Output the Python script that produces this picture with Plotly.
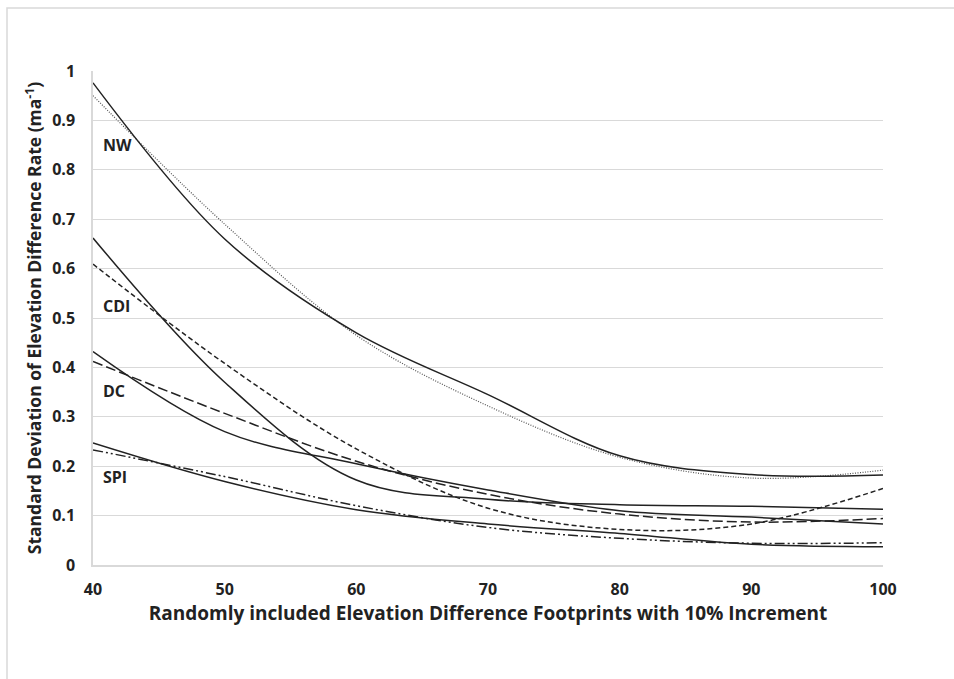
import plotly.graph_objects as go

x_pct = [40, 50, 60, 70, 80, 90, 100]

nw_solid = [0.976, 0.66, 0.47, 0.345, 0.221, 0.183, 0.182]
nw_dotted = [0.95, 0.69, 0.465, 0.322, 0.218, 0.176, 0.192]
cdi_solid = [0.662, 0.37, 0.172, 0.133, 0.122, 0.119, 0.113]
cdi_dashed = [0.609, 0.408, 0.235, 0.115, 0.072, 0.083, 0.155]
dc_solid = [0.432, 0.27, 0.205, 0.152, 0.11, 0.097, 0.083]
dc_dashed = [0.412, 0.307, 0.21, 0.143, 0.103, 0.087, 0.094]
spi_solid = [0.247, 0.169, 0.112, 0.083, 0.064, 0.042, 0.037]
spi_dashdot = [0.233, 0.179, 0.12, 0.076, 0.054, 0.044, 0.045]

region_labels = ["NW", "CDI", "DC", "SPI"]
label_x = [40.6, 40.6, 40.6, 40.6]
label_y = [0.85, 0.524, 0.352, 0.178]

x_ticks = [40, 50, 60, 70, 80, 90, 100]
y_ticks = [0, 0.1, 0.2, 0.3, 0.4, 0.5, 0.6, 0.7, 0.8, 0.9, 1]
y_tick_text = ["0", "0.1", "0.2", "0.3", "0.4", "0.5", "0.6", "0.7", "0.8", "0.9", "1"]

FONT = "Open Sans"
INK = "#222222"

series = [
    (nw_dotted, dict(color="#555555", width=1.2, dash="1px,1.5px")),
    (nw_solid, dict(color=INK, width=1.5)),
    (cdi_dashed, dict(color=INK, width=1.5, dash="5px,3px")),
    (cdi_solid, dict(color=INK, width=1.5)),
    (dc_dashed, dict(color=INK, width=1.5, dash="10px,4px")),
    (dc_solid, dict(color=INK, width=1.5)),
    (spi_dashdot, dict(color=INK, width=1.5, dash="10px,3px,2px,3px,2px,3px")),
    (spi_solid, dict(color=INK, width=1.5)),
]

fig = go.Figure()
for ys, ln in series:
    fig.add_trace(go.Scatter(x=x_pct, y=ys, mode="lines",
                             line=dict(shape="spline", smoothing=1.0, **ln),
                             showlegend=False, hoverinfo="skip"))

for t, lx, ly in zip(region_labels, label_x, label_y):
    fig.add_annotation(x=lx, y=ly, text="<b>%s</b>" % t, showarrow=False,
                       xanchor="left", yanchor="middle",
                       font=dict(family=FONT, size=16, color=INK))

# outer light border
L, R, T, B = 93, 883, 71, 565
pw, ph = R - L, B - T
fig.add_shape(type="rect", xref="paper", yref="paper",
              x0=(7 - L) / pw, x1=(990 - L) / pw,
              y0=(B - 720) / ph, y1=(B - 8) / ph,
              line=dict(color="#d9d9d9", width=1.5), fillcolor="rgba(0,0,0,0)", layer="below")

fig.update_layout(
    width=954, height=679,
    margin=dict(l=L, r=954 - R, t=T, b=679 - B),
    paper_bgcolor="white", plot_bgcolor="white",
    font=dict(family=FONT, color=INK),
    xaxis=dict(range=[40, 100], tickvals=x_ticks, ticktext=["<b>%d</b>" % v for v in x_ticks],
               showgrid=False, zeroline=False, showline=True, linecolor="#d9d9d9", linewidth=1.5,
               tickfont=dict(family=FONT, size=16, color=INK), ticks="",
               ticklabelstandoff=9,
               title=dict(text="<b>Randomly included Elevation Difference Footprints with 10% Increment</b>",
                          font=dict(family=FONT, size=19, color=INK), standoff=5)),
    yaxis=dict(range=[0, 1], tickvals=y_ticks, ticktext=["<b>%s</b>" % t for t in y_tick_text],
               showgrid=True, gridcolor="#d9d9d9", gridwidth=1, zeroline=False,
               showline=True, linecolor="#d9d9d9", linewidth=1.5,
               tickfont=dict(family=FONT, size=16, color=INK), ticks="",
               ticklabelstandoff=13,
               title=dict(text="<b>Standard Deviation of Elevation Difference Rate (ma<sup>-1</sup>)</b>",
                          font=dict(family=FONT, size=17.5, color=INK), standoff=6)),
)

fig.write_html("out.html", config={"displayModeBar": False},
               post_script="document.body.style.margin='0';")
